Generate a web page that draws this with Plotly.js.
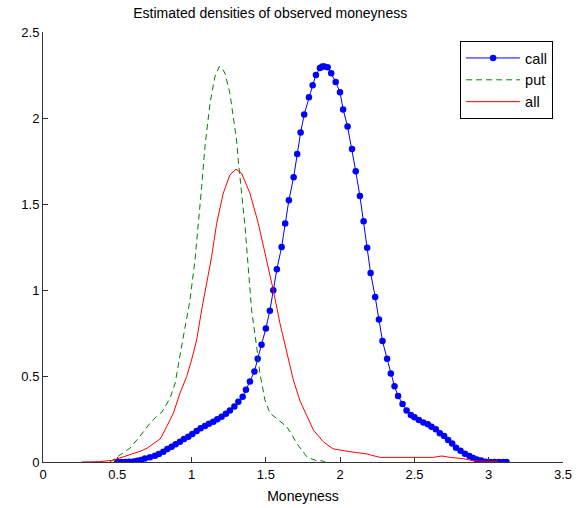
<!DOCTYPE html>
<html>
<head>
<meta charset="utf-8">
<script src="https://cdn.plot.ly/plotly-3.0.1.min.js"></script>
<style>html,body{margin:0;padding:0;background:#fff;}#chart{width:579px;height:508px;}</style>
</head>
<body>
<div id="chart"></div>
<script>
// "call" series (dots)
var callX = [0.50,0.527,0.555,0.58,0.61,0.635,0.66,0.686,0.72,0.754,0.78,0.81,0.837,0.866,0.893,0.922,0.949,0.978,1.005,1.034,1.061,1.09,1.117,1.146,1.173,1.202,1.231,1.258,1.288,1.315,1.344,1.366,1.393,1.423,1.445,1.471,1.50,1.527,1.55,1.574,1.606,1.63,1.655,1.687,1.711,1.734,1.758,1.79,1.815,1.837,1.864,1.88,1.893,1.916,1.94,1.97,1.999,2.02,2.05,2.08,2.105,2.133,2.158,2.182,2.205,2.236,2.261,2.285,2.316,2.341,2.366,2.39,2.42,2.447,2.476,2.50,2.53,2.56,2.59,2.615,2.644,2.671,2.70,2.727,2.754,2.78,2.81,2.84,2.87,2.895,2.92,2.95,2.98,3.01,3.04,3.07,3.10,3.12];
var callY = [0.0,0.0,0.0,0.001,0.003,0.007,0.012,0.021,0.027,0.037,0.047,0.06,0.076,0.089,0.103,0.118,0.134,0.147,0.163,0.18,0.196,0.209,0.223,0.234,0.248,0.263,0.28,0.30,0.322,0.35,0.38,0.42,0.468,0.526,0.60,0.682,0.776,0.88,0.998,1.12,1.25,1.387,1.522,1.655,1.79,1.915,2.02,2.12,2.19,2.25,2.29,2.30,2.30,2.295,2.26,2.21,2.15,2.05,1.95,1.82,1.69,1.547,1.399,1.246,1.099,0.959,0.829,0.703,0.60,0.515,0.44,0.383,0.337,0.30,0.273,0.26,0.244,0.23,0.219,0.205,0.19,0.167,0.151,0.128,0.108,0.083,0.066,0.048,0.035,0.023,0.015,0.008,0.002,0.0,0.0,0.0,0.0,0.0];

// "put" series
var putX = [0.45,0.496,0.585,0.653,0.72,0.765,0.80,0.855,0.89,0.922,0.944,0.989,1.023,1.045,1.068,1.09,1.124,1.157,1.187,1.205,1.225,1.258,1.281,1.303,1.314,1.33,1.337,1.36,1.382,1.404,1.438,1.46,1.494,1.528,1.572,1.60,1.64,1.675,1.707,1.75,1.775,1.80,1.84,1.886,1.90];
var putY = [0.0,0.027,0.08,0.15,0.225,0.265,0.29,0.37,0.46,0.62,0.729,0.94,1.174,1.368,1.60,1.833,2.085,2.24,2.30,2.29,2.26,2.143,2.008,1.872,1.756,1.60,1.562,1.368,1.116,0.884,0.67,0.516,0.36,0.283,0.254,0.235,0.205,0.16,0.109,0.06,0.031,0.021,0.008,0.006,0.0];

// "all" series
var allX = [0.26,0.32,0.38,0.47,0.585,0.653,0.70,0.742,0.79,0.832,0.877,0.922,0.967,1.0,1.034,1.068,1.10,1.135,1.169,1.213,1.258,1.299,1.337,1.393,1.449,1.505,1.55,1.595,1.64,1.685,1.73,1.775,1.82,1.886,1.953,2.066,2.178,2.268,2.47,2.627,2.683,2.74,2.83,2.895,2.985,3.06];
var allY = [0.0,0.0,0.002,0.01,0.04,0.062,0.08,0.105,0.135,0.205,0.283,0.40,0.496,0.593,0.709,0.884,1.04,1.194,1.388,1.562,1.669,1.703,1.678,1.562,1.388,1.174,1.0,0.806,0.632,0.477,0.355,0.27,0.186,0.118,0.076,0.06,0.047,0.027,0.027,0.027,0.035,0.027,0.019,0.008,0.004,0.004];

var xTicks = [0,0.5,1,1.5,2,2.5,3,3.5];
var xTickText = ['0','0.5','1','1.5','2','2.5','3','3.5'];
var yTicks = [0,0.5,1,1.5,2,2.5];
var yTickText = ['0','0.5','1','1.5','2','2.5'];

var traces = [
  {x: callX, y: callY, name: 'call', legendgroup: 'g1', type: 'scatter', mode: 'lines+markers',
   line: {color: '#0000ff', width: 1}, marker: {color: '#0000ff', size: 6.5}},
  {x: putX, y: putY, name: 'put', legendgroup: 'g2', type: 'scatter', mode: 'lines',
   line: {color: '#008000', width: 1, dash: '6px,4px'}},
  {x: allX, y: allY, name: 'all', legendgroup: 'g3', type: 'scatter', mode: 'lines',
   line: {color: '#ff0000', width: 1}}
];

var fontFam = 'Liberation Sans, Arial, Helvetica, sans-serif';
var layout = {
  width: 579, height: 508,
  margin: {l: 43, r: 16, t: 32, b: 46, pad: 0},
  paper_bgcolor: '#ffffff', plot_bgcolor: '#ffffff',
  font: {family: fontFam, size: 13, color: '#000'},
  title: {text: 'Estimated densities of observed moneyness', font: {family: fontFam, size: 14, color: '#000'},
          x: 0.437, xanchor: 'center', y: 0.974, yanchor: 'middle', xref: 'paper'},
  showlegend: true,
  legend: {x: 0.981, xanchor: 'right', y: 0.979, yanchor: 'top',
           bordercolor: '#000', borderwidth: 1, bgcolor: '#fff',
           font: {family: fontFam, size: 14.5, color: '#000'},
           itemwidth: 54, tracegroupgap: 0},
  xaxis: {range: [0, 3.5], tickmode: 'array', tickvals: xTicks, ticktext: xTickText,
          ticks: 'inside', ticklen: 5, tickwidth: 1, tickcolor: '#333',
          showline: true, linecolor: '#333', linewidth: 1, mirror: false,
          showgrid: false, zeroline: false, automargin: false,
          tickfont: {family: fontFam, size: 13, color: '#000'},
          title: {text: 'Moneyness', font: {family: fontFam, size: 14, color: '#000'}, standoff: 10}},
  yaxis: {range: [0, 2.5], tickmode: 'array', tickvals: yTicks, ticktext: yTickText,
          ticks: 'inside', ticklen: 5, tickwidth: 1, tickcolor: '#333',
          showline: true, linecolor: '#333', linewidth: 1, mirror: false,
          showgrid: false, zeroline: false, automargin: false,
          tickfont: {family: fontFam, size: 13, color: '#000'}}
};

Plotly.newPlot('chart', traces, layout, {displayModeBar: false, staticPlot: true});
</script>
</body>
</html>
